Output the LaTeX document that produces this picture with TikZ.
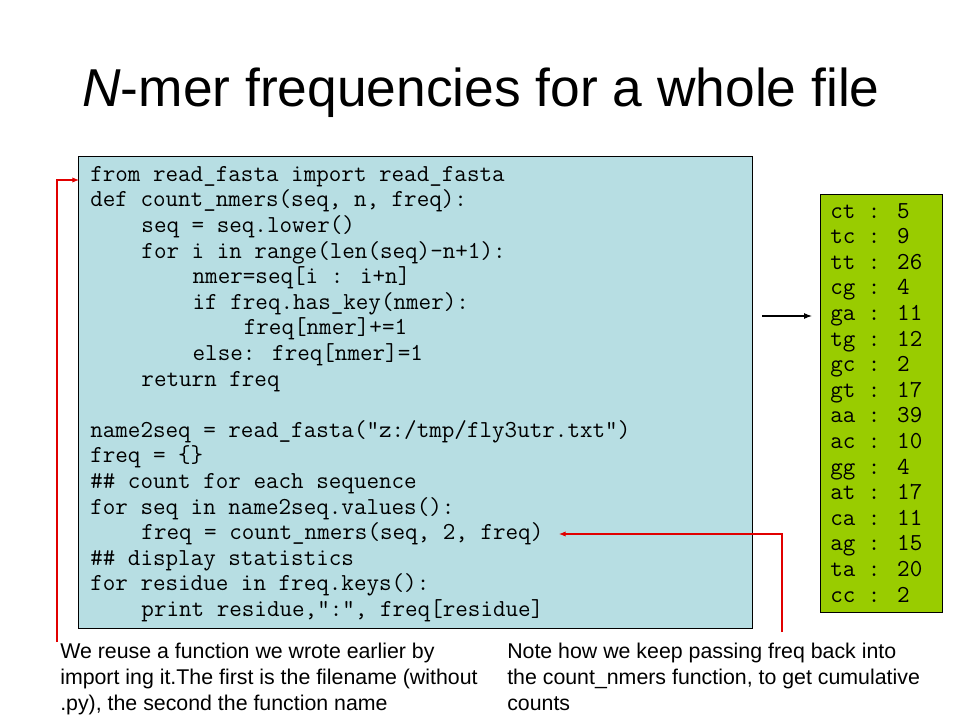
\documentclass[tikz,border=0pt]{standalone}
\usepackage{fontspec}
\setmainfont{Liberation Sans}
\usetikzlibrary{arrows.meta,positioning}
\definecolor{codeblue}{RGB}{183,222,227}
\definecolor{countgreen}{RGB}{153,204,0}
\definecolor{noteline}{RGB}{225,0,0}
\newlength\codechar
\setlength\codechar{9.6pt}
\newcommand{\codeind}[1]{\hspace*{#1\codechar}}
\tikzset{
  codebox/.style={draw=black, line width=0.8pt, inner sep=0pt},
  codetext/.style={font=\ttfamily\fontsize{18.29}{19.2}\selectfont, align=left, inner sep=0pt},
  note/.style={font=\fontsize{16}{19.6}\selectfont, align=left, inner sep=0pt},
  notearrow/.style={noteline, line width=0.8pt, -{Latex[length=5pt,width=4pt]}}
}
\begin{document}
\begin{tikzpicture}[x=0.75pt, y=-0.75pt]
\useasboundingbox (0,0) rectangle (960,720);
\node[font=\fontsize{40}{48}\selectfont] (title) at (481,93) {\textit{N}-mer frequencies for a whole file};
% the program
\node[codebox, fill=codeblue, minimum width=505.5pt, minimum height=354pt, anchor=north west] (code) at (78,156) {};
\node[codetext, anchor=north west] (listing) at (90,166) {from read\_fasta import read\_fasta\\
def count\_nmers(seq, n, freq):\\
\codeind{4}seq = seq.lower()\\
\codeind{4}for i in range(len(seq)-n+1):\\
\codeind{8}nmer=seq[i : i+n]\\
\codeind{8}if freq.has\_key(nmer):\\
\codeind{12}freq[nmer]+=1\\
\codeind{8}else: freq[nmer]=1\\
\codeind{4}return freq\\
\mbox{}\\
name2seq = read\_fasta("z:/tmp/fly3utr.txt")\\
freq = \{\}\\
\#\# count for each sequence\\
for seq in name2seq.values():\\
\codeind{4}freq = count\_nmers(seq, 2, freq)\\
\#\# display statistics\\
for residue in freq.keys():\\
\codeind{4}print residue,":", freq[residue]};
% the output
\node[codebox, fill=countgreen, minimum width=91.5pt, minimum height=313.5pt, anchor=north west] (counts) at (820,194) {};
\node[codetext, anchor=north west] (output) at (830,203) {ct : 5\\ tc : 9\\ tt : 26\\ cg : 4\\ ga : 11\\ tg : 12\\ gc : 2\\ gt : 17\\ aa : 39\\ ac : 10\\ gg : 4\\ at : 17\\ ca : 11\\ ag : 15\\ ta : 20\\ cc : 2};
\coordinate (run) at (762,316);
\coordinate (result) at (812,316);
\draw[line width=0.8pt, -{Latex[length=6pt,width=4.5pt]}] (run) -- (result);
% the notes
\node[note, anchor=north west] (reuse) at (60,643) {We reuse a function we wrote earlier by\\
import ing it.The first is the filename (without\\
.py), the second the function name};
\node[note, anchor=north west] (passing) at (507,643) {Note how we keep passing freq back into\\
the count\_nmers function, to get cumulative\\
counts};
\coordinate (reusefoot) at (57,642);
\coordinate (importline) at (79,180);
\coordinate (passingfoot) at (782,632);
\coordinate (callline) at (559,534);
\draw[notearrow] (reusefoot) |- (importline);
\draw[notearrow] (passingfoot) |- (callline);
\end{tikzpicture}
\end{document}
